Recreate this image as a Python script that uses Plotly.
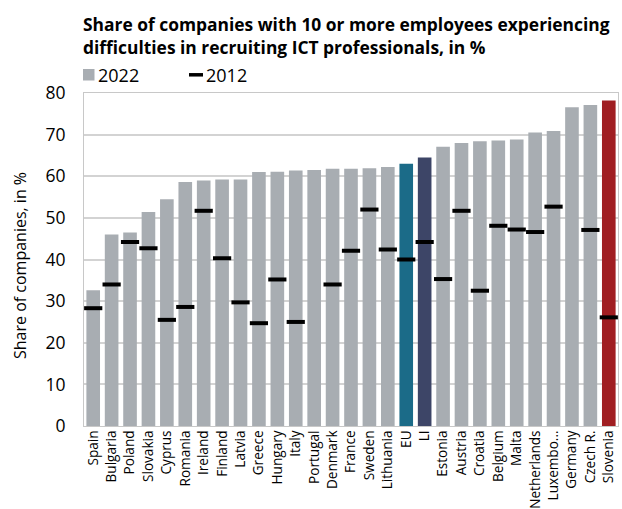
import plotly.graph_objects as go

# Countries ordered by 2022 share
countries = ["Spain", "Bulgaria", "Poland", "Slovakia", "Cyprus", "Romania", "Ireland",
             "Finland", "Latvia", "Greece", "Hungary", "Italy", "Portugal", "Denmark",
             "France", "Sweden", "Lithuania", "EU", "LI", "Estonia", "Austria", "Croatia",
             "Belgium", "Malta", "Netherlands", "Luxembo...", "Germany", "Czech R.", "Slovenia"]

share_2022 = [32.6, 46.0, 46.5, 51.4, 54.5, 58.6, 59.0, 59.2, 59.2, 61.0, 61.1, 61.4, 61.5, 61.8,
              61.8, 61.9, 62.2, 63.0, 64.5, 67.1, 68.0, 68.4, 68.6, 68.8, 70.5, 70.9, 76.6, 77.1, 78.2]

share_2012 = [28.3, 34.0, 44.2, 42.7, 25.5, 28.6, 51.7, 40.3, 29.7, 24.7, 35.2, 25.0, None, 34.0,
              42.1, 52.0, 42.4, 40.0, 44.2, 35.3, 51.7, 32.5, 48.1, 47.2, 46.6, 52.7, None, 47.1, 26.1]

GREY = "#A8ADB2"
highlight = {"EU": "#1B6B88", "LI": "#3D4567", "Slovenia": "#A01E22"}
bar_colors = [highlight.get(c, GREY) for c in countries]

FONT = "Open Sans"

# figure geometry (pixels) used to place the header items
W, H = 622, 509
ML, MR, MT, MB = 84, 4, 93, 83
PW, PH = W - ML - MR, H - MT - MB


def px(x):
    return (x - ML) / PW


def py(y):
    return (H - MB - y) / PH


fig = go.Figure()
fig.add_trace(go.Bar(
    x=countries, y=share_2022, name="2022",
    marker=dict(color=bar_colors, line=dict(width=0)),
))
fig.add_trace(go.Scatter(
    x=countries, y=share_2012, name="2012", mode="markers",
    marker=dict(symbol="line-ew", size=13, color="black",
                line=dict(width=4, color="black")),
))

shapes = [
    # legend swatches
    dict(type="rect", xref="paper", yref="paper", x0=px(83), x1=px(94.5),
         y0=py(80.5), y1=py(69), fillcolor=GREY, line=dict(width=0)),
    dict(type="line", xref="paper", yref="paper", x0=px(189), x1=px(203),
         y0=py(74.8), y1=py(74.8), line=dict(color="black", width=3.5)),
]

annotations = [
    dict(text="<b>Share of companies with 10 or more employees experiencing<br>"
              "difficulties in recruiting ICT professionals, in %</b>",
         xref="paper", yref="paper", x=px(81), y=py(10), xanchor="left", yanchor="top",
         align="left", showarrow=False, font=dict(size=17.4, family=FONT, color="black")),
    dict(text="2022", xref="paper", yref="paper", x=px(96), y=py(74.5),
         xanchor="left", yanchor="middle", showarrow=False,
         font=dict(size=18, family=FONT, color="black")),
    dict(text="2012", xref="paper", yref="paper", x=px(204), y=py(74.5),
         xanchor="left", yanchor="middle", showarrow=False,
         font=dict(size=18, family=FONT, color="black")),
    dict(text="Share of companies, in %", xref="paper", yref="paper",
         x=px(19.5), y=py(265.5), xanchor="center", yanchor="middle", textangle=-90,
         showarrow=False, font=dict(size=16, family=FONT, color="black")),
]

fig.update_layout(
    width=W, height=H,
    margin=dict(l=ML, r=MR, t=MT, b=MB),
    paper_bgcolor="white", plot_bgcolor="white",
    bargap=0.26,
    font=dict(family=FONT, color="black"),
    showlegend=False,
    shapes=shapes,
    annotations=annotations,
)

fig.update_xaxes(
    tickangle=-90, tickfont=dict(size=13.6, family=FONT, color="black"),
    showline=True, linecolor="#C8C8C8", linewidth=1, mirror=True,
    showgrid=False, ticks="", range=[-0.5, len(countries) - 0.5],
    automargin=False, ticklabelstandoff=-2,
)
fig.update_yaxes(
    range=[0, 80], dtick=10, tickfont=dict(size=17.5, family=FONT, color="black"),
    showgrid=True, gridcolor="#D3D3D3", gridwidth=1.5,
    showline=True, linecolor="#C8C8C8", linewidth=1, mirror=True,
    ticks="", zeroline=False, ticklabelstandoff=14, automargin=False,
)

fig.write_html("out.html")
